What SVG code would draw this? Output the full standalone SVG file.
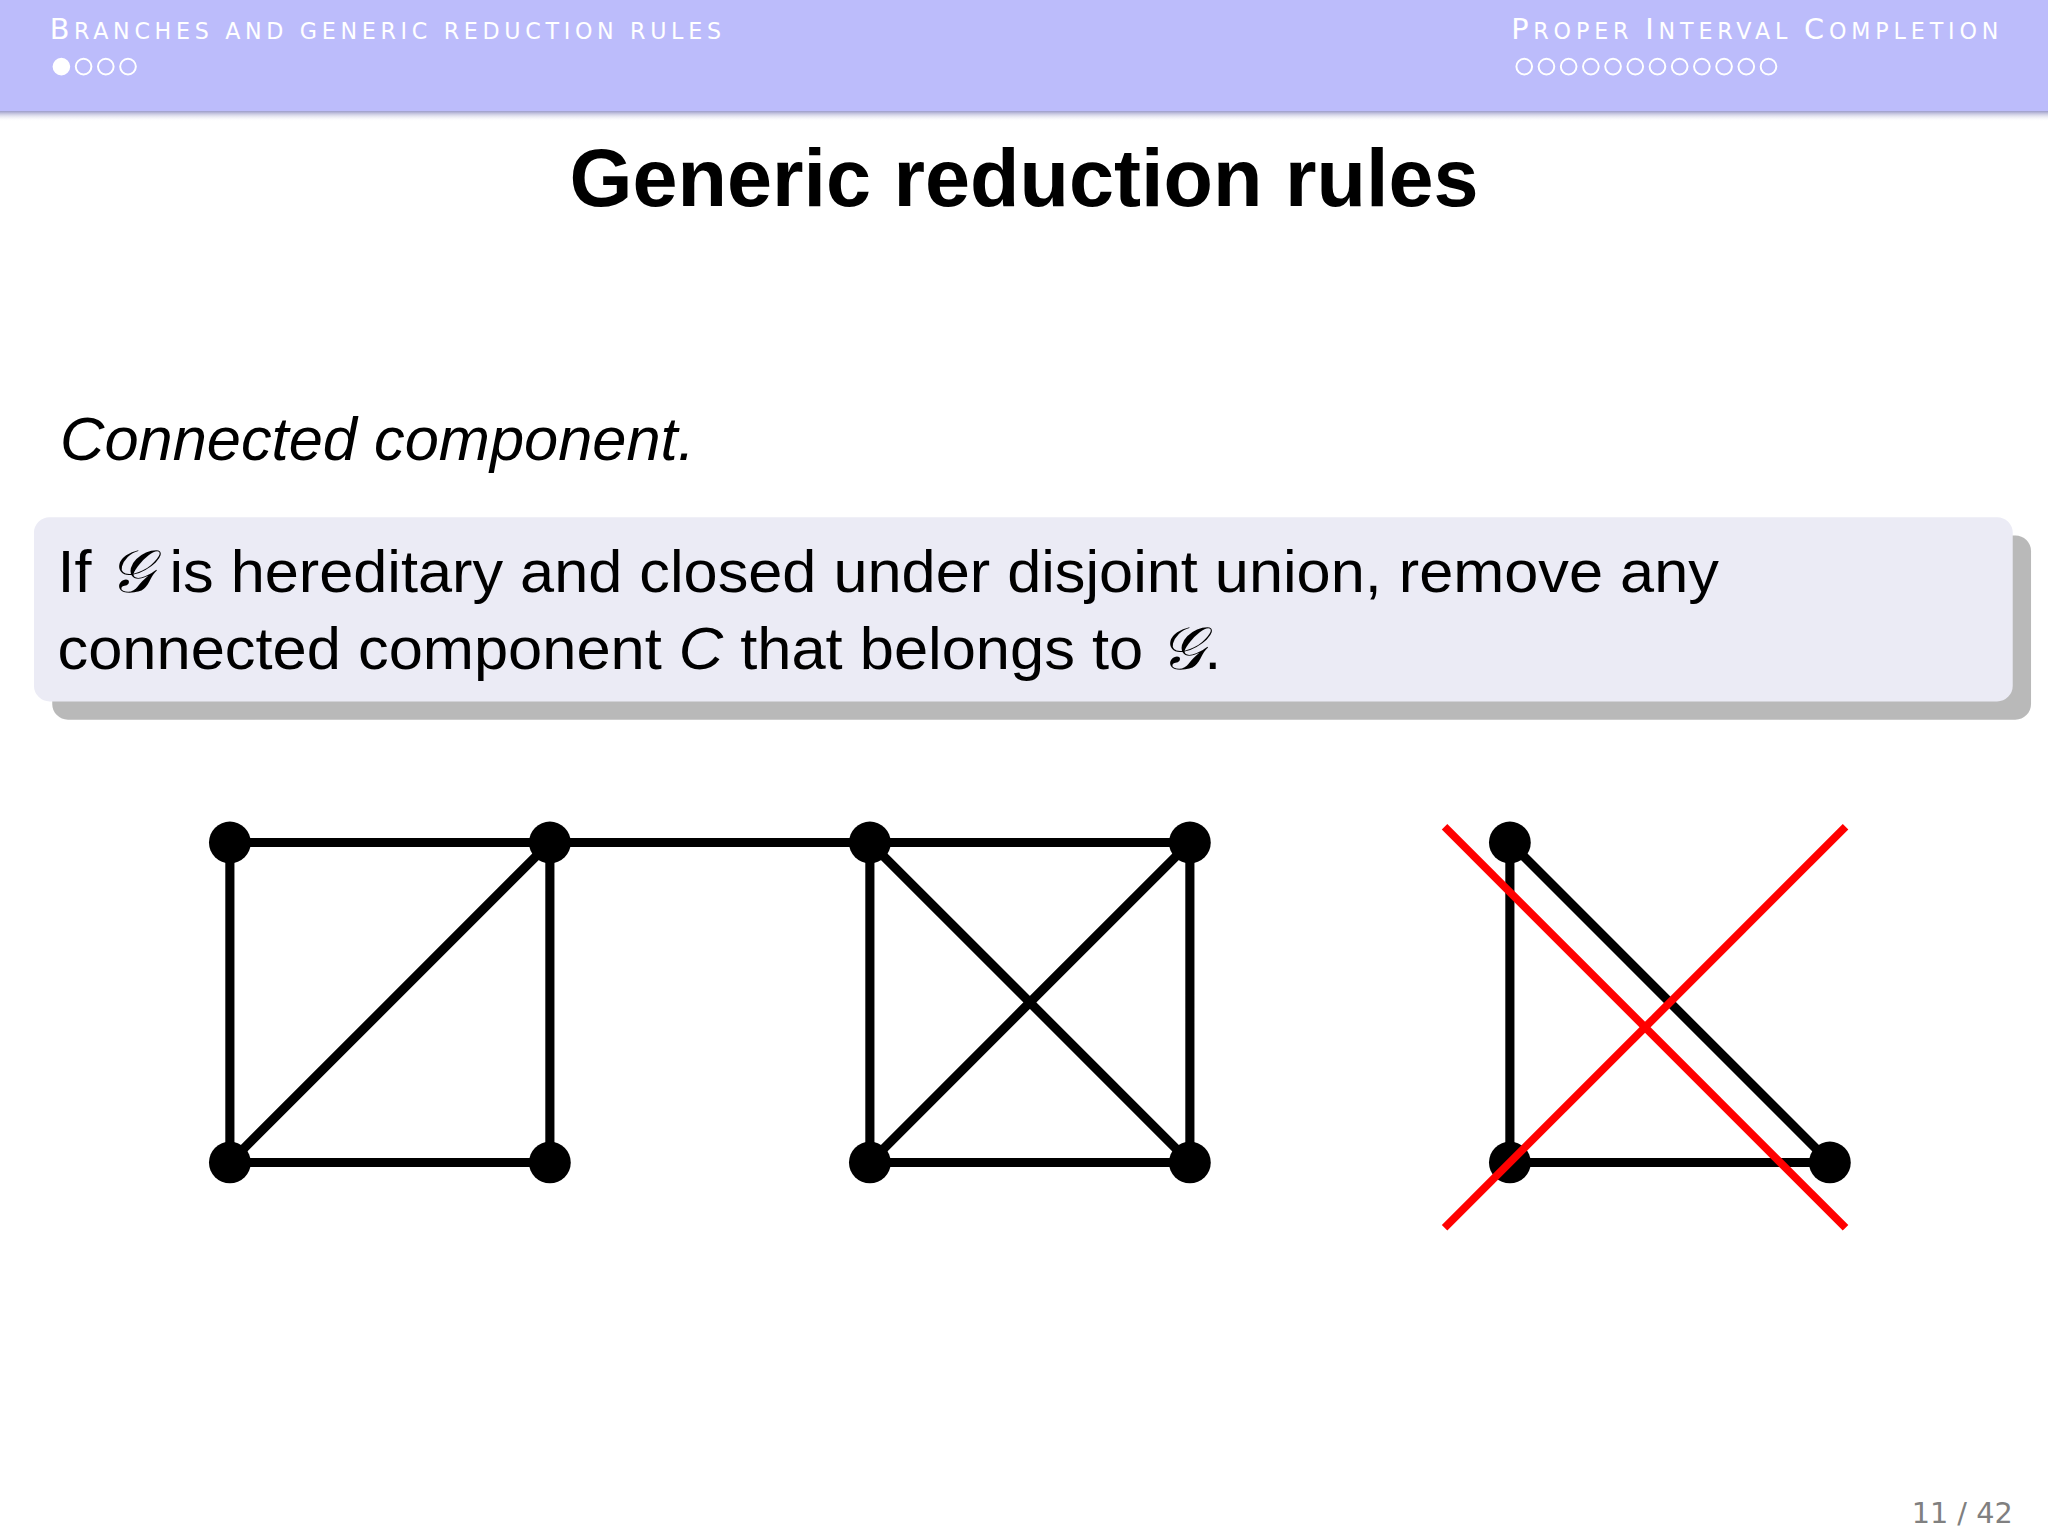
<svg xmlns="http://www.w3.org/2000/svg" width="2048" height="1536" viewBox="0 0 2048 1536">
<style>
.e{stroke:#000;stroke-width:7;fill:none}
.n{fill:#000}
.hd{font-family:"DejaVu Sans",sans-serif;fill:#fff;font-size:22px}
.x{stroke:#f00;stroke-width:6}
</style>
<defs>
<linearGradient id="sh" x1="0" y1="0" x2="0" y2="1"><stop offset="0" stop-color="#9a9ac8"/><stop offset="1" stop-color="#fff" stop-opacity="0"/></linearGradient>
</defs>
<rect width="2048" height="1536" fill="#fff"/>
<g transform="scale(1.306122)">
<g id="header">
<rect x="0" y="0" width="1568" height="85" fill="#bcbcfb"/>
<rect x="0" y="85" width="1568" height="8" fill="url(#sh)"/>
<text class="hd" x="38" y="30" textLength="514" lengthAdjust="spacing">B<tspan font-size="17">RANCHES AND GENERIC REDUCTION RULES</tspan></text>
<text class="hd" x="1157" y="30" textLength="373" lengthAdjust="spacing">P<tspan font-size="17">ROPER </tspan>I<tspan font-size="17">NTERVAL </tspan>C<tspan font-size="17">OMPLETION</tspan></text>
<g fill="none" stroke="#fff" stroke-width="1.5">
<circle cx="47" cy="51" r="6" fill="#fff"/><circle cx="64" cy="51" r="6"/><circle cx="81" cy="51" r="6"/><circle cx="98" cy="51" r="6"/>
<circle cx="1167" cy="51" r="6"/><circle cx="1184" cy="51" r="6"/><circle cx="1201" cy="51" r="6"/><circle cx="1218" cy="51" r="6"/><circle cx="1235" cy="51" r="6"/><circle cx="1252" cy="51" r="6"/><circle cx="1269" cy="51" r="6"/><circle cx="1286" cy="51" r="6"/><circle cx="1303" cy="51" r="6"/><circle cx="1320" cy="51" r="6"/><circle cx="1337" cy="51" r="6"/><circle cx="1354" cy="51" r="6"/>
</g>
</g>
<text x="784" y="158" text-anchor="middle" font-family="'Liberation Sans',sans-serif" font-weight="bold" font-size="62">Generic reduction rules</text>
<text x="46" y="352" font-family="'Liberation Sans',sans-serif" font-style="italic" font-size="47">Connected component.</text>
<g id="box">
<rect x="40" y="410" width="1515" height="141" rx="12" fill="#8a8a8a" opacity="0.6"/>
<rect x="26" y="396" width="1515" height="141" rx="12" fill="#ebebf5"/>
<text font-family="'Liberation Sans',sans-serif" font-size="46"><tspan x="44" y="453" textLength="1272" lengthAdjust="spacingAndGlyphs">If <tspan font-family="'Liberation Serif',serif" font-style="italic">𝒢</tspan> is hereditary and closed under disjoint union, remove any</tspan><tspan x="44" y="512" textLength="891" lengthAdjust="spacingAndGlyphs">connected component <tspan font-style="italic">C</tspan> that belongs to <tspan font-family="'Liberation Serif',serif" font-style="italic">𝒢</tspan>.</tspan></text>
</g>
<g id="connectors">
<path class="e" d="M176 645H421V890H176Z M421 645L176 890 M421 645H666 M666 645H911V890H666Z M666 645L911 890 M911 645L666 890 M1156 645V890H1401Z"/>
</g>
<g id="nodes" class="n">
<circle cx="176" cy="645" r="16"/><circle cx="421" cy="645" r="16"/><circle cx="666" cy="645" r="16"/><circle cx="911" cy="645" r="16"/>
<circle cx="176" cy="890" r="16"/><circle cx="421" cy="890" r="16"/><circle cx="666" cy="890" r="16"/><circle cx="911" cy="890" r="16"/>
<circle cx="1156" cy="645" r="16"/><circle cx="1156" cy="890" r="16"/><circle cx="1401" cy="890" r="16"/>
</g>
<g id="cross"><line class="x" x1="1106" y1="633" x2="1413" y2="940"/><line class="x" x1="1413" y1="633" x2="1106" y2="940"/></g>
<text x="1541" y="1166" text-anchor="end" font-family="'DejaVu Sans',sans-serif" font-size="22" fill="#808080">11 / 42</text>
</g>
</svg>
